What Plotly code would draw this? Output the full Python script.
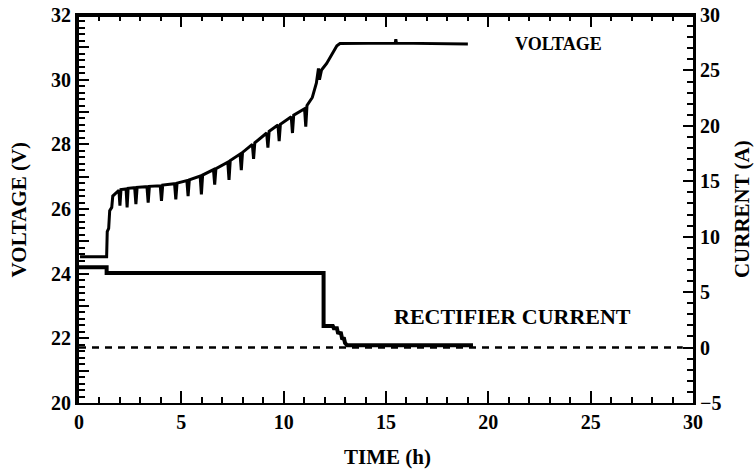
import plotly.graph_objects as go

# ---- data ----
time_v = [0.05, 1.35, 1.38, 1.45, 1.5, 1.6, 1.65, 1.8, 1.9,
          1.95, 2.0, 2.05, 2.3, 2.35, 2.4, 2.72, 2.78, 2.84,
          3.32, 3.38, 3.44, 3.97, 4.03, 4.09, 4.67, 4.73, 4.79,
          5.27, 5.33, 5.39, 5.92, 5.98, 6.04, 6.57, 6.63, 6.69,
          7.27, 7.33, 7.39, 7.87, 7.93, 7.99, 8.47, 8.53, 8.59,
          9.17, 9.23, 9.29, 9.72, 9.78, 9.84, 10.37, 10.43, 10.49,
          11.02, 11.08, 11.14, 11.4, 11.6, 11.7, 11.75, 11.85, 12.1,
          12.4, 12.6, 12.75, 15.45, 15.48, 15.51, 19.0]
voltage = [24.52, 24.52, 25.3, 25.4, 25.95, 26.05, 26.4, 26.5, 26.55,
           26.58, 26.1, 26.6, 26.62, 26.05, 26.64, 26.66, 26.15, 26.67,
           26.69, 26.2, 26.7, 26.72, 26.25, 26.74, 26.78, 26.3, 26.8,
           26.88, 26.4, 26.9, 27.02, 26.45, 27.05, 27.22, 26.75, 27.25,
           27.45, 26.9, 27.5, 27.7, 27.2, 27.75, 28.0, 27.55, 28.05,
           28.35, 27.9, 28.4, 28.6, 28.1, 28.62, 28.85, 28.35, 28.9,
           29.1, 28.55, 29.2, 29.45, 29.9, 30.35, 30.0, 30.3, 30.5,
           30.85, 31.05, 31.12, 31.13, 31.25, 31.13, 31.1]

time_i = [0.0, 1.35, 1.35, 11.95, 11.95, 12.4, 12.45, 12.6, 12.65,
          12.8, 12.85, 12.95, 13.0, 13.1, 19.25]
current = [7.25, 7.25, 6.72, 6.72, 1.95, 1.95, 1.75, 1.75, 1.35,
           1.3, 0.85, 0.8, 0.4, 0.2, 0.2]

zero_time = [0.0, 29.5]
zero_current = [0.0, 0.0]

x_ticks = [0, 5, 10, 15, 20, 25, 30]
v_ticks = [20, 21, 22, 23, 24, 25, 26, 27, 28, 29, 30, 31, 32]
v_labels = ["20", "", "22", "", "24", "", "26", "", "28", "", "30", "", "32"]
i_ticks = [-5, 0, 5, 10, 15, 20, 25, 30]

FONT = "Liberation Serif"

fig = go.Figure()
fig.add_trace(go.Scatter(x=time_v, y=voltage, mode="lines",
                         line=dict(color="black", width=3),
                         showlegend=False, yaxis="y"))
fig.add_trace(go.Scatter(x=time_i, y=current, mode="lines",
                         line=dict(color="black", width=4),
                         showlegend=False, yaxis="y2"))
fig.add_trace(go.Scatter(x=zero_time, y=zero_current, mode="lines",
                         line=dict(color="black", width=2.5, dash="7px,6px"),
                         showlegend=False, yaxis="y2"))

tickfont = dict(family=FONT, size=20, color="black", weight="bold")
titlefont = dict(family=FONT, size=21, color="black", weight="bold")

fig.update_layout(
    width=756, height=474,
    margin=dict(l=79, r=63, t=15, b=71, autoexpand=False),
    paper_bgcolor="white", plot_bgcolor="rgba(0,0,0,0)",
    font=dict(family=FONT, color="black"),
    xaxis=dict(range=[0, 30], tickmode="array", tickvals=x_ticks, ticks="inside",
               ticklen=12, tickwidth=2, tickcolor="black", showline=True,
               linewidth=2, linecolor="black", mirror="ticks", showgrid=False,
               zeroline=False, tickfont=tickfont, ticklabeloverflow="allow",
               automargin=False,
               minor=dict(dtick=1, ticks="inside", ticklen=6, tickwidth=2,
                          tickcolor="black", showgrid=False)),
    yaxis=dict(range=[20, 32], tickmode="array", tickvals=v_ticks, ticktext=v_labels,
               ticks="inside", ticklen=10, tickwidth=2, tickcolor="black",
               showline=True, linewidth=4, linecolor="black", showgrid=False,
               zeroline=False, tickfont=tickfont, ticklabeloverflow="allow",
               automargin=False,
               minor=dict(dtick=0.2, ticks="inside", ticklen=6, tickwidth=2,
                          tickcolor="black", showgrid=False)),
    yaxis2=dict(range=[-5, 30], tickmode="array", tickvals=i_ticks, overlaying="y",
                side="right", ticks="inside", ticklen=10, tickwidth=2,
                tickcolor="black", showline=True, linewidth=3, linecolor="black",
                showgrid=False, zeroline=False, tickfont=tickfont,
                ticklabeloverflow="allow", automargin=False,
                minor=dict(dtick=1, ticks="inside", ticklen=6, tickwidth=2,
                           tickcolor="black", showgrid=False)),
    shapes=[dict(type="line", xref="paper", yref="paper", x0=0, x1=1, y0=1, y1=1,
                 line=dict(color="black", width=4))],
    annotations=[
        dict(text="VOLTAGE (V)", xref="paper", yref="paper", x=-0.097, y=0.5,
             textangle=-90, showarrow=False, xanchor="center", yanchor="middle",
             font=titlefont),
        dict(text="CURRENT (A)", xref="paper", yref="paper", x=1.08, y=0.5,
             textangle=-90, showarrow=False, xanchor="center", yanchor="middle",
             font=titlefont),
        dict(text="TIME (h)", xref="paper", yref="paper", x=0.503, y=-0.14,
             showarrow=False, xanchor="center", yanchor="middle",
             font=titlefont),
        dict(text="VOLTAGE", x=21.2, y=31.1, xref="x", yref="y",
             showarrow=False, xanchor="left", yanchor="middle",
             font=dict(family=FONT, size=18, color="black", weight="bold")),
        dict(text="RECTIFIER CURRENT", x=15.3, y=22.66, xref="x", yref="y",
             showarrow=False, xanchor="left", yanchor="middle",
             font=dict(family=FONT, size=22, color="black", weight="bold")),
    ],
)

fig.write_html("out.html",
               config={"displayModeBar": False},
               post_script="document.body.style.margin='0';"
                           "document.body.style.overflow='hidden';")
